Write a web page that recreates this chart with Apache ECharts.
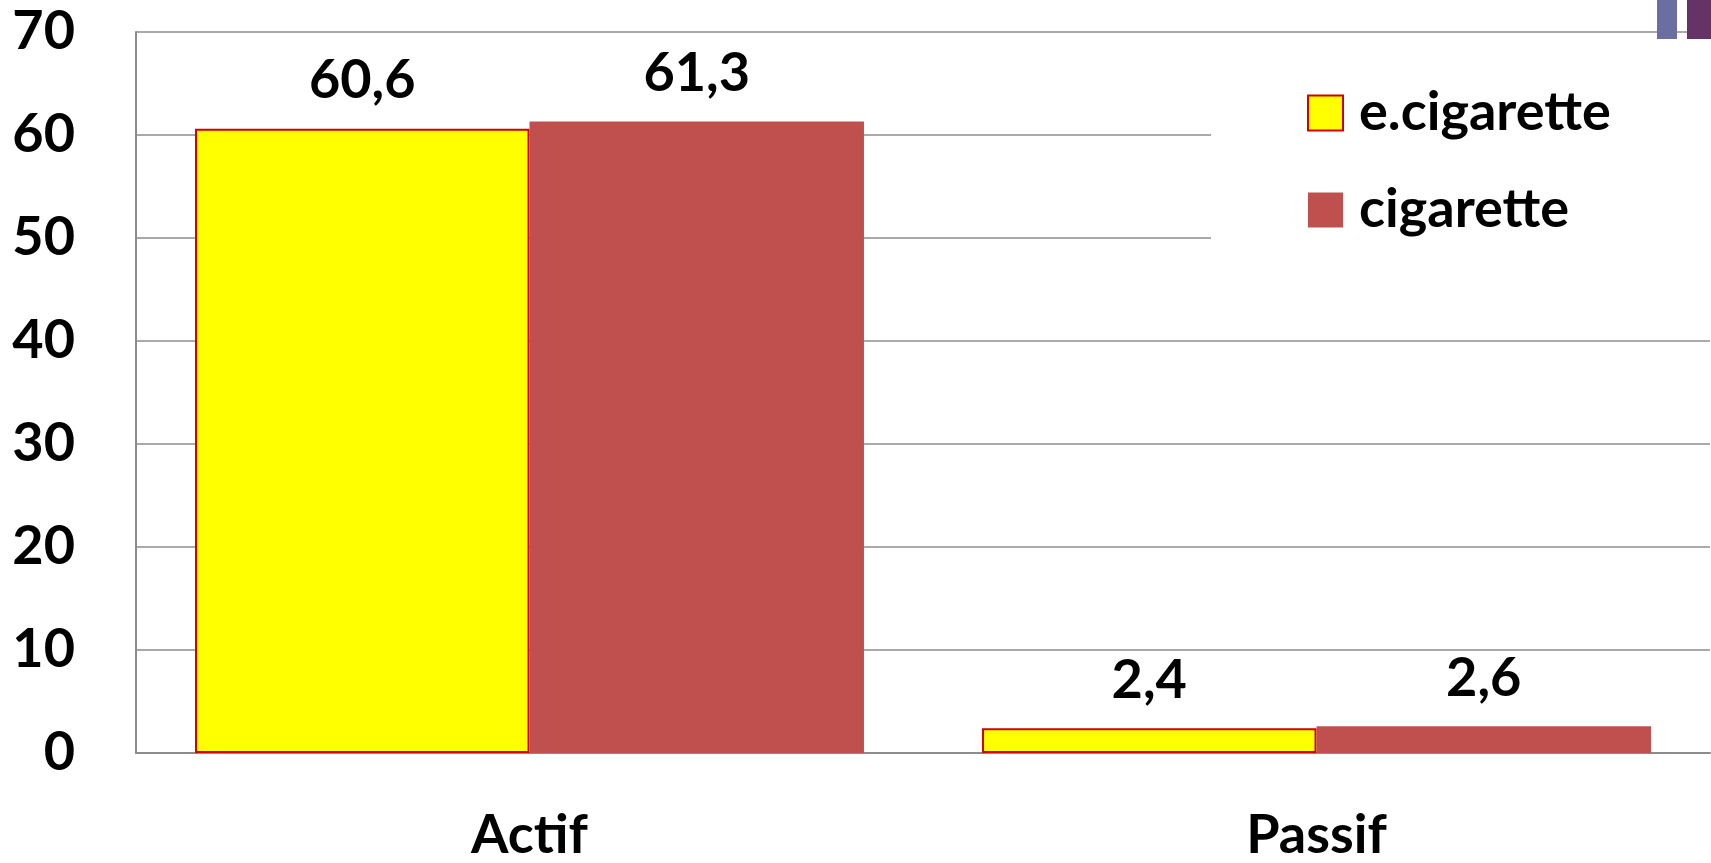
<!DOCTYPE html>
<html>
<head>
<meta charset="utf-8">
<script src="https://cdn.jsdelivr.net/npm/echarts@6/dist/echarts.min.js"></script>
<style>
  html, body { margin: 0; padding: 0; background: #fff; }
  #chart { width: 1711px; height: 863px; }
</style>
</head>
<body>
<div id="chart"></div>
<script>
var categories = ['Actif', 'Passif'];
var eCigarette = [60.6, 2.4];
var cigarette = [61.3, 2.6];
var yTicks = [0, 10, 20, 30, 40, 50, 60, 70];

var FONT = 'Lato';
var chart = echarts.init(document.getElementById('chart'), null, { renderer: 'canvas' });

function comma(p) {
    return String(p.value).replace('.', ',');
}

var labelStyle = {
    show: true,
    position: 'top',
    distance: 21,
    formatter: comma,
    color: '#000',
    fontFamily: FONT,
    fontWeight: 'bold',
    fontSize: 54
};

var option = {
    backgroundColor: '#fff',
    animation: false,
    grid: { left: 136, right: 1, top: 32, bottom: 108 },
    legend: {
        orient: 'vertical',
        left: 1211,
        top: 56,
        padding: [30, 160, 40, 96],
        backgroundColor: '#fff',
        itemWidth: 35,
        itemHeight: 35,
        itemGap: 43,
        icon: 'rect',
        textStyle: {
            color: '#000',
            fontFamily: FONT,
            fontWeight: 'bold',
            fontSize: 54,
            lineHeight: 38,
            padding: [0, 0, 0, 11]
        },
        data: ['e.cigarette', 'cigarette']
    },
    xAxis: {
        type: 'category',
        data: categories,
        axisTick: { show: false },
        axisLine: { lineStyle: { color: '#8c8c8c', width: 2 } },
        axisLabel: {
            margin: 56,
            color: '#000',
            fontFamily: FONT,
            fontWeight: 'bold',
            fontSize: 54
        }
    },
    yAxis: {
        type: 'value',
        min: yTicks[0],
        max: yTicks[yTicks.length - 1],
        interval: 10,
        axisLine: { show: true, lineStyle: { color: '#8c8c8c', width: 2 } },
        axisTick: { show: false },
        splitLine: { lineStyle: { color: '#8c8c8c', width: 1.5 } },
        axisLabel: {
            margin: 61,
            color: '#000',
            fontFamily: FONT,
            fontWeight: 'bold',
            fontSize: 54
        }
    },
    series: [
        {
            name: 'e.cigarette',
            type: 'bar',
            data: eCigarette,
            barGap: '0%',
            barCategoryGap: '15%',
            itemStyle: { color: '#ffff00', borderColor: '#d40000', borderWidth: 2 },
            label: labelStyle
        },
        {
            name: 'cigarette',
            type: 'bar',
            data: cigarette,
            itemStyle: { color: '#c0504d' },
            label: labelStyle
        }
    ],
    graphic: [
        { type: 'rect', left: 1657, top: 0, shape: { width: 20, height: 39 }, style: { fill: '#6a6ea0' }, z: 100 },
        { type: 'rect', left: 1687, top: 0, shape: { width: 24, height: 39 }, style: { fill: '#663366' }, z: 100 }
    ]
};

chart.setOption(option);
</script>
</body>
</html>
